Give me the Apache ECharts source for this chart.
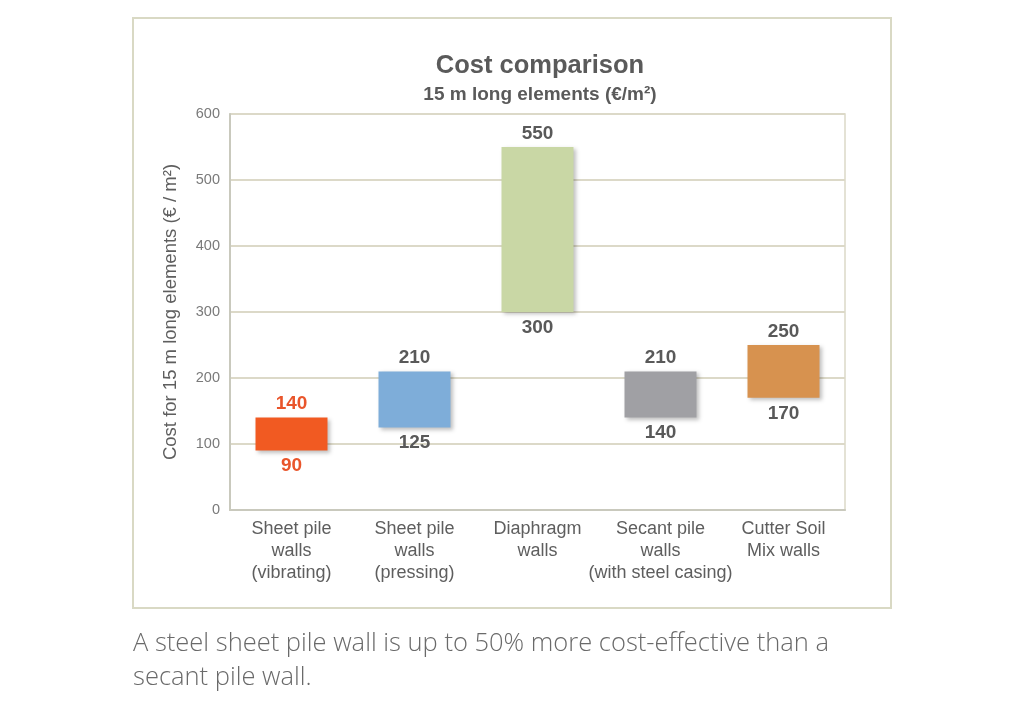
<!DOCTYPE html>
<html lang="en">
<head>
<meta charset="UTF-8">
<title>Cost comparison</title>
<script src="https://cdn.jsdelivr.net/npm/echarts@6/dist/echarts.min.js"></script>
<style>
  html, body { margin: 0; padding: 0; background: #fff; }
  #main { width: 1024px; height: 712px; }
</style>
</head>
<body>
<div id="main"></div>
<script>
// data
const categories = [
  'Sheet pile\nwalls\n(vibrating)',
  'Sheet pile\nwalls\n(pressing)',
  'Diaphragm\nwalls',
  'Secant pile\nwalls\n(with steel casing)',
  'Cutter Soil\nMix walls'
];
const lowValues = [90, 125, 300, 140, 170];
const highValues = [140, 210, 550, 210, 250];
const barColors = ['#f15a22', '#7eadd9', '#c9d7a5', '#a0a0a4', '#d7924f'];
const labelColors = ['#e9552b', '#595959', '#595959', '#595959', '#595959'];
const yTicks = [0, 100, 200, 300, 400, 500, 600];

const chart = echarts.init(document.getElementById('main'));
const font = 'Liberation Sans, Arial, sans-serif';

const option = {
  backgroundColor: '#fff',
  textStyle: { fontFamily: font },
  title: {
    text: 'Cost comparison',
    subtext: '15 m long elements (€/m²)',
    left: 535,
    top: 48,
    textAlign: 'center',
    itemGap: 6,
    textStyle: { fontSize: 25.5, fontWeight: 'bold', color: '#5a5a5a', fontFamily: font },
    subtextStyle: { fontSize: 19, fontWeight: 'bold', color: '#5a5a5a', fontFamily: font }
  },
  graphic: [
    {
      type: 'rect',
      shape: { x: 133, y: 18, width: 758, height: 590 },
      style: { fill: 'none', stroke: '#d9d9c4', lineWidth: 2 },
      silent: true
    },
    {
      type: 'text',
      left: 133,
      top: 627,
      style: {
        text: 'A steel sheet pile wall is up to 50% more cost-effective than a\nsecant pile wall.',
        font: '300 25.5px "Open Sans", sans-serif',
        fill: '#6a6a6a',
        lineHeight: 34
      },
      silent: true
    }
  ],
  grid: {
    left: 230,
    right: 179,
    top: 114,
    bottom: 202,
    show: true,
    borderColor: '#dcd9c8',
    borderWidth: 1.5
  },
  xAxis: {
    type: 'category',
    data: categories,
    axisTick: { show: false },
    axisLine: { lineStyle: { color: '#c9c9bd', width: 2 } },
    axisLabel: { color: '#5e5e5e', fontSize: 18, lineHeight: 22, margin: 8, interval: 0 }
  },
  yAxis: {
    type: 'value',
    min: yTicks[0],
    max: yTicks[yTicks.length - 1],
    interval: 100,
    name: 'Cost for 15 m long elements (€ / m²)',
    nameLocation: 'middle',
    nameGap: 50,
    nameTextStyle: { color: '#5e5e5e', fontSize: 18.5 },
    axisLine: { show: true, lineStyle: { color: '#c9c9bd', width: 2 } },
    axisTick: { show: false },
    axisLabel: { color: '#7a7a7a', fontSize: 14.5, margin: 10 },
    splitLine: { lineStyle: { color: '#dcd9c8', width: 2 } }
  },
  series: [
    {
      type: 'bar',
      stack: 'range',
      barWidth: 72,
      silent: true,
      itemStyle: { color: 'transparent' },
      data: lowValues.map((v, i) => ({
        value: v,
        label: { color: labelColors[i] }
      })),
      label: {
        show: true,
        position: 'insideTop',
        distance: 6,
        fontSize: 19,
        fontWeight: 'bold'
      }
    },
    {
      type: 'bar',
      stack: 'range',
      barWidth: 72,
      data: highValues.map((v, i) => ({
        value: v - lowValues[i],
        itemStyle: { color: barColors[i] },
        label: { color: labelColors[i] }
      })),
      itemStyle: {
        shadowColor: 'rgba(0,0,0,0.25)',
        shadowBlur: 4,
        shadowOffsetX: 2,
        shadowOffsetY: 2
      },
      label: {
        show: true,
        position: 'top',
        distance: 4,
        fontSize: 19,
        fontWeight: 'bold',
        formatter: p => String(highValues[p.dataIndex])
      }
    }
  ]
};

chart.setOption(option);
</script>
</body>
</html>
